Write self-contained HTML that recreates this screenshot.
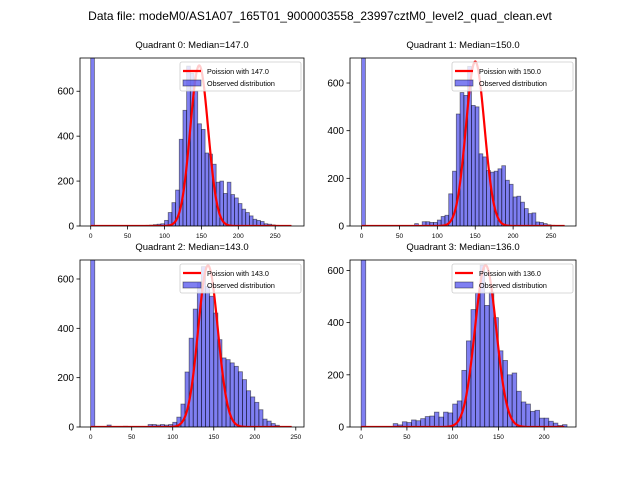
<!DOCTYPE html>
<html><head><meta charset="utf-8"><style>
body{margin:0;background:#fff}
svg{font-family:"Liberation Sans","DejaVu Sans",sans-serif}
</style></head><body>
<svg id="chart" width="640" height="480" xmlns="http://www.w3.org/2000/svg">
<rect width="640" height="480" fill="#fff"/>
<text x="320" y="20" font-size="12" text-anchor="middle">Data file: modeM0/AS1A07_165T01_9000003558_23997cztM0_level2_quad_clean.evt</text>
</svg>
<script>
// Quadrant data (bin width 5, start values and counts)
const quadTitles = ["Quadrant 0: Median=147.0","Quadrant 1: Median=150.0","Quadrant 2: Median=143.0","Quadrant 3: Median=136.0"];
const medians = [147, 150, 143, 136];
const poissonPeaks = [715, 690, 655, 620];
const poissonMax = [272, 268, 245, 222];
const binWidth = 5;
const q0Starts = [0,75,80,85,90,95,100,105,110,115,120,125,130,135,140,145,150,155,160,165,170,175,180,185,190,195,200,205,210,215,220,225,230,235,240,245,250,255];
const q0Counts = [2000,3,4,6,8,10,25,60,104,160,386,515,712,680,600,455,430,325,320,275,195,200,145,195,140,125,100,75,60,45,30,25,20,10,8,5,3,2];
const q1Starts = [0,70,80,85,90,95,100,105,110,115,120,125,130,135,140,145,150,155,160,165,170,175,180,185,190,195,200,205,210,215,220,225,230,235,240,245,250];
const q1Counts = [2000,10,18,18,15,15,25,40,45,135,230,470,560,548,670,506,500,303,290,233,226,230,240,253,192,175,122,125,100,73,52,55,17,15,10,5,3];
const q2Starts = [0,20,40,70,75,80,85,90,95,100,105,110,115,120,125,130,135,140,145,150,155,160,165,170,175,180,185,190,195,200,205,210,215,220,225];
const q2Counts = [2000,8,3,10,10,8,10,8,10,19,40,93,223,360,478,583,650,570,530,462,354,280,273,260,246,224,192,147,122,100,70,32,24,14,7];
const q3Starts = [0,35,40,45,50,55,60,65,70,75,80,85,90,95,100,105,110,115,120,125,130,135,140,145,150,155,160,165,170,175,180,185,190,195,200,205,210,215,220];
const q3Counts = [2000,13,8,20,17,27,24,32,40,42,57,38,57,54,88,100,217,330,450,513,620,466,517,419,292,255,200,207,137,96,88,60,64,34,34,22,15,6,9];
const yTicks = [[0,200,400,600],[0,200,400,600],[0,200,400,600],[0,200,400,600]];
const xTicks = [[0,50,100,150,200,250],[0,50,100,150,200,250],[0,50,100,150,200,250],[0,50,100,150,200]];

const NS = "http://www.w3.org/2000/svg";
const svg = document.getElementById('chart');
const panels = [
 {l:80,r:304,t:58,b:226,xmin:-14.5,xmax:289,ymax:748},
 {l:350,r:576,t:58,b:226,xmin:-15.3,xmax:283,ymax:705},
 {l:80,r:304,t:260,b:427,xmin:-13.0,xmax:260,ymax:677},
 {l:350,r:576,t:260,b:427,xmin:-12.2,xmax:234.8,ymax:640}
];
const starts = [q0Starts,q1Starts,q2Starts,q3Starts];
const counts = [q0Counts,q1Counts,q2Counts,q3Counts];
function mk(tag, attrs, parent){const e=document.createElementNS(NS,tag);for(const k in attrs)e.setAttribute(k,attrs[k]);(parent||svg).appendChild(e);return e;}
panels.forEach((p,i)=>{
  const g = mk('g',{});
  
  
  const X = v => p.l + (v-p.xmin)/(p.xmax-p.xmin)*(p.r-p.l);
  const Y = v => p.b - Math.min(v,p.ymax)/p.ymax*(p.b-p.t);
  const clipId='clip'+i;
  const cp=mk('clipPath',{id:clipId},g);mk('rect',{x:p.l,y:p.t,width:p.r-p.l,height:p.b-p.t},cp);
  const bars=mk('g',{'clip-path':'url(#'+clipId+')'},g);
  starts[i].forEach((s,j)=>{
    const r=mk('rect',{x:X(s),y:Y(counts[i][j]),width:X(s+binWidth)-X(s),height:p.b-Y(counts[i][j]),fill:'rgba(0,0,230,0.5)',stroke:'rgba(0,0,0,0.5)','stroke-width':0.8},bars);
    
    
  });
  let d='';const lam=medians[i],A=poissonPeaks[i];
  for(let x=0;x<=poissonMax[i];x+=0.5){const y=A*Math.exp(-(x-lam)*(x-lam)/(2*lam));d+=(d?'L':'M')+X(x).toFixed(2)+','+Y(y).toFixed(2);}
  const pl=mk('path',{d:d,fill:'none',stroke:'red','stroke-width':2.2,'clip-path':'url(#'+clipId+')'},g);
  
  
  const fr=mk('rect',{x:p.l,y:p.t,width:p.r-p.l,height:p.b-p.t,fill:'none',stroke:'#000','stroke-width':0.8},g);
  
  
  yTicks[i].forEach(v=>{
    mk('line',{x1:p.l-3.5,x2:p.l,y1:Y(v),y2:Y(v),stroke:'#000','stroke-width':0.8},g);
    const t=mk('text',{x:p.l-6,y:Y(v)+3.5,'font-size':10,'text-anchor':'end'},g);t.textContent=v;
    
    
  });
  xTicks[i].forEach(v=>{
    mk('line',{x1:X(v),x2:X(v),y1:p.b,y2:p.b+3.5,stroke:'#000','stroke-width':0.8},g);
    const t=mk('text',{x:X(v),y:p.b+12,'font-size':6.5,'text-anchor':'middle'},g);t.textContent=v;
    
    
  });
  const tt=mk('text',{x:(p.l+p.r)/2,y:p.t-10,'font-size':9.5,'text-anchor':'middle'},g);tt.textContent=quadTitles[i];
  
  
  const lg=mk('g',{},g);
  
  
  const lx=p.r-124, ly=p.t+4;
  mk('rect',{x:lx,y:ly,width:121,height:29,fill:'rgba(255,255,255,0.8)',stroke:'#ccc','stroke-width':0.8,rx:2},lg);
  mk('line',{x1:lx+3,x2:lx+21,y1:ly+9,y2:ly+9,stroke:'red','stroke-width':2.2},lg);
  const t1=mk('text',{x:lx+27,y:ly+12,'font-size':7.2},lg);t1.textContent='Poission with '+medians[i].toFixed(1);
  mk('rect',{x:lx+3,y:ly+18,width:18,height:6,fill:'rgba(0,0,230,0.5)',stroke:'rgba(0,0,0,0.5)','stroke-width':0.8},lg);
  const t2=mk('text',{x:lx+27,y:ly+24,'font-size':7.2},lg);t2.textContent='Observed distribution';
});
</script>
</body></html>
